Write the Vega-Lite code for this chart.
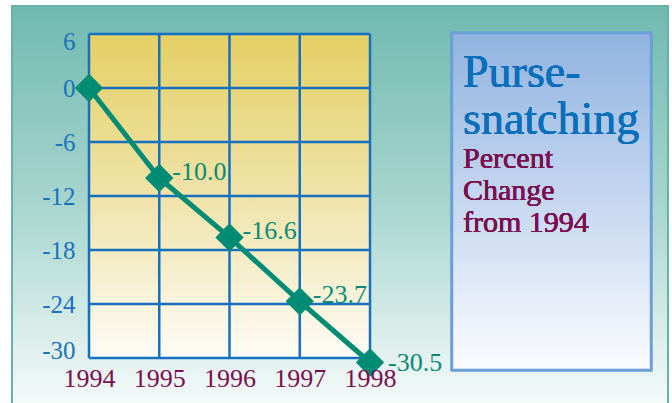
{
  "$schema": "https://vega.github.io/schema/vega-lite/v6.json",
  "width": 281,
  "height": 324,
  "autosize": {"type": "none"},
  "padding": {"left": 89, "top": 34, "right": 302, "bottom": 45},
  "background": "white",
  "config": {
    "view": {"stroke": null},
    "font": "Liberation Serif",
    "locale": {"number": {"decimal": ".", "thousands": ",", "grouping": [3], "currency": ["$", ""], "minus": "-"}}
  },
  "datasets": {
    "main": [
      {"year": 1994, "change": 0.0},
      {"year": 1995, "change": -10.0},
      {"year": 1996, "change": -16.6},
      {"year": 1997, "change": -23.7},
      {"year": 1998, "change": -30.5}
    ],
    "yticks": [
      {"v": 6}, {"v": 0}, {"v": -6}, {"v": -12}, {"v": -18}, {"v": -24}, {"v": -30}
    ]
  },
  "data": {"name": "main"},
  "layer": [
    {
      "mark": {"type": "rect", "stroke": "#66b2a8", "strokeWidth": 2,
        "fill": {"gradient": "linear", "x1": 0, "y1": 0, "x2": 0, "y2": 1,
          "stops": [{"offset": 0, "color": "#70b9af"}, {"offset": 0.5, "color": "#a9d6cf"}, {"offset": 1, "color": "#f8fcfb"}]}},
      "encoding": {
        "x": {"datum": 1992.904, "type": "quantitative", "title": null, "scale": {"domain": [1994, 1998], "nice": false, "zero": false}},
        "x2": {"datum": 2002.242},
        "y": {"datum": 9.111, "type": "quantitative", "title": null, "scale": {"domain": [-30, 6], "nice": false, "zero": false}},
        "y2": {"datum": -36}
      }
    },
    {
      "mark": {"type": "rect",
        "fill": {"gradient": "linear", "x1": 0, "y1": 0, "x2": 0, "y2": 1,
          "stops": [{"offset": 0, "color": "#e4d064"}, {"offset": 0.45, "color": "#eee1a2"}, {"offset": 1, "color": "#fdfcf6"}]}},
      "encoding": {
        "x": {"datum": 1994, "type": "quantitative", "title": null, "scale": {"domain": [1994, 1998], "nice": false, "zero": false}},
        "x2": {"datum": 1998},
        "y": {"datum": 6, "type": "quantitative", "title": null, "scale": {"domain": [-30, 6], "nice": false, "zero": false}},
        "y2": {"datum": -30}
      }
    },
    {
      "mark": {"type": "rule", "color": "#1570c0", "strokeWidth": 2.5},
      "encoding": {
        "x": {"field": "year", "type": "quantitative", "title": null, "scale": {"domain": [1994, 1998], "nice": false, "zero": false}},
        "y": {"datum": 6, "type": "quantitative", "title": null, "scale": {"domain": [-30, 6], "nice": false, "zero": false}},
        "y2": {"datum": -30}
      }
    },
    {
      "data": {"name": "yticks"},
      "mark": {"type": "rule", "color": "#1570c0", "strokeWidth": 2.5},
      "encoding": {
        "x": {"datum": 1994, "type": "quantitative", "title": null, "scale": {"domain": [1994, 1998], "nice": false, "zero": false}},
        "x2": {"datum": 1998},
        "y": {"field": "v", "type": "quantitative", "title": null, "scale": {"domain": [-30, 6], "nice": false, "zero": false}}
      }
    },
    {
      "mark": {"type": "line", "color": "#008c74", "strokeWidth": 5},
      "encoding": {
        "x": {"field": "year", "type": "quantitative", "title": null, "scale": {"domain": [1994, 1998], "nice": false, "zero": false},
          "axis": {"values": [1994, 1995, 1996, 1997, 1998], "format": "d", "domain": false, "ticks": false, "grid": false,
            "labelFont": "Liberation Serif", "labelFontSize": 26, "labelColor": "#7a1050", "labelPadding": 7,
            "labelFlush": false, "labelOverlap": false, "zindex": 1}},
        "y": {"field": "change", "type": "quantitative", "title": null, "scale": {"domain": [-30, 6], "nice": false, "zero": false},
          "axis": {"values": [6, 0, -6, -12, -18, -24, -30], "domain": false, "ticks": false, "grid": false,
            "labelFont": "Liberation Serif", "labelFontSize": 25, "labelColor": "#1a72be", "labelPadding": 14,
            "labelFlush": true, "labelFlushOffset": 5, "labelOverlap": false, "zindex": 1}}
      }
    },
    {
      "mark": {"type": "point", "shape": "diamond", "filled": true, "size": 800, "color": "#008c74", "opacity": 1},
      "encoding": {
        "x": {"field": "year", "type": "quantitative", "title": null, "scale": {"domain": [1994, 1998], "nice": false, "zero": false}},
        "y": {"field": "change", "type": "quantitative", "title": null, "scale": {"domain": [-30, 6], "nice": false, "zero": false}}
      }
    },
    {
      "transform": [{"filter": "datum.year > 1994 && datum.year < 1998"}],
      "mark": {"type": "text", "align": "left", "baseline": "middle", "dx": 13, "dy": -6, "fontSize": 26, "font": "Liberation Serif", "color": "#0a8a72"},
      "encoding": {
        "x": {"field": "year", "type": "quantitative", "title": null, "scale": {"domain": [1994, 1998], "nice": false, "zero": false}},
        "y": {"field": "change", "type": "quantitative", "title": null, "scale": {"domain": [-30, 6], "nice": false, "zero": false}},
        "text": {"field": "change", "type": "quantitative", "format": ".1f"}
      }
    },
    {
      "transform": [{"filter": "datum.year == 1998"}],
      "mark": {"type": "text", "align": "left", "baseline": "middle", "dx": 18, "dy": 0, "fontSize": 26, "font": "Liberation Serif", "color": "#0a8a72"},
      "encoding": {
        "x": {"field": "year", "type": "quantitative", "title": null, "scale": {"domain": [1994, 1998], "nice": false, "zero": false}},
        "y": {"field": "change", "type": "quantitative", "title": null, "scale": {"domain": [-30, 6], "nice": false, "zero": false}},
        "text": {"field": "change", "type": "quantitative", "format": ".1f"}
      }
    },
    {
      "mark": {"type": "rect", "stroke": "#6a9fd8", "strokeWidth": 2.5,
        "fill": {"gradient": "linear", "x1": 0, "y1": 0, "x2": 0, "y2": 1,
          "stops": [{"offset": 0, "color": "#90b3e0"}, {"offset": 0.5, "color": "#c6d7f0"}, {"offset": 1, "color": "#fbfcfe"}]}},
      "encoding": {
        "x": {"datum": 1999.167, "type": "quantitative", "title": null, "scale": {"domain": [1994, 1998], "nice": false, "zero": false}},
        "x2": {"datum": 2002.0},
        "y": {"datum": 6.11, "type": "quantitative", "title": null, "scale": {"domain": [-30, 6], "nice": false, "zero": false}},
        "y2": {"datum": -31.33}
      }
    },
    {
      "mark": {"type": "text", "align": "left", "baseline": "alphabetic", "fontSize": 46, "lineHeight": 47, "font": "Liberation Serif", "color": "#0a6fba"},
      "encoding": {
        "x": {"datum": 1999.324, "type": "quantitative", "title": null, "scale": {"domain": [1994, 1998], "nice": false, "zero": false}},
        "y": {"datum": 0.111, "type": "quantitative", "title": null, "scale": {"domain": [-30, 6], "nice": false, "zero": false}},
        "text": {"value": ["Purse-", "snatching"]}
      }
    },
    {
      "mark": {"type": "text", "align": "left", "baseline": "alphabetic", "fontSize": 30, "lineHeight": 32, "font": "Liberation Serif", "color": "#7a1050"},
      "encoding": {
        "x": {"datum": 1999.324, "type": "quantitative", "title": null, "scale": {"domain": [1994, 1998], "nice": false, "zero": false}},
        "y": {"datum": -8.889, "type": "quantitative", "title": null, "scale": {"domain": [-30, 6], "nice": false, "zero": false}},
        "text": {"value": ["Percent", "Change", "from 1994"]}
      }
    }
  ]
}
